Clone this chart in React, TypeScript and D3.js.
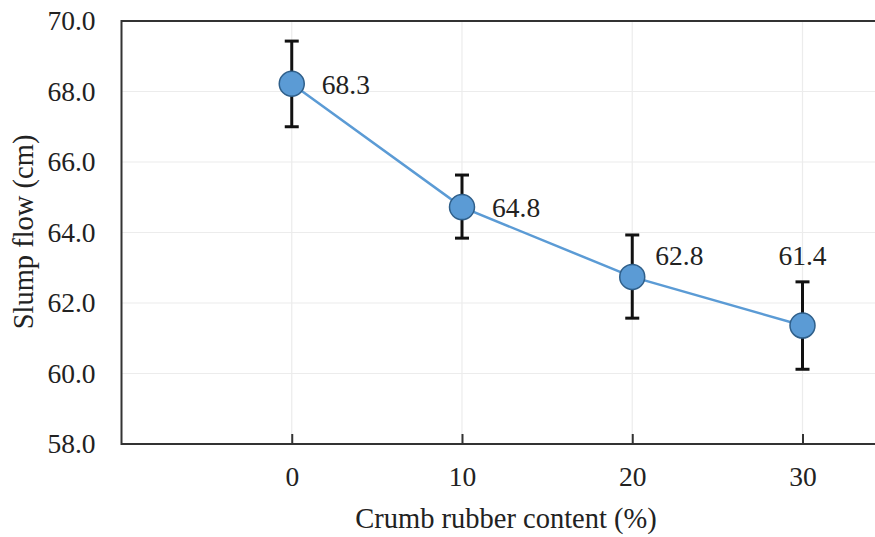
import React, { useEffect, useRef } from 'react';
import * as d3 from 'd3';

// Crumb rubber content (%) on the x axis
const categories = [0, 10, 20, 30];
// Slump flow means and error bar ends (cm)
const slumpFlow = [68.22, 64.72, 62.74, 61.36];
const errHigh = [69.43, 65.63, 63.93, 62.6];
const errLow = [67.0, 63.84, 61.57, 60.12];
const dataLabels = ['68.3', '64.8', '62.8', '61.4'];
// where each data label sits relative to its marker
const labelPlacement = ['right', 'right', 'upperRight', 'above'];
const yTicks = [58, 60, 62, 64, 66, 68, 70];

const WIDTH = 875;
const HEIGHT = 537;
const LEFT = 121.5;
const TOP = 21;
const BOTTOM = 444;

const FONT = '"Liberation Serif", "Times New Roman", serif';
const BLUE = 'rgb(91, 155, 213)';

export default function App() {
  const ref = useRef<SVGSVGElement>(null);

  useEffect(() => {
    const svg = d3.select(ref.current);
    svg.selectAll('*').remove();

    // one category step is 170px, left edge sits one step before 0
    const xScale = d3.scaleLinear().domain([-10, 30]).range([LEFT, 802.5]);
    const yScale = d3.scaleLinear().domain([58, 70]).range([BOTTOM, TOP]);

    // gridlines
    svg.append('g')
      .selectAll('line')
      .data(yTicks.slice(1, -1))
      .enter()
      .append('line')
      .attr('x1', LEFT)
      .attr('x2', WIDTH)
      .attr('y1', (d) => yScale(d))
      .attr('y2', (d) => yScale(d))
      .attr('stroke', '#ececec')
      .attr('stroke-width', 1.2);
    svg.append('g')
      .selectAll('line')
      .data(categories)
      .enter()
      .append('line')
      .attr('x1', (d) => xScale(d))
      .attr('x2', (d) => xScale(d))
      .attr('y1', TOP)
      .attr('y2', BOTTOM)
      .attr('stroke', '#ececec')
      .attr('stroke-width', 1.2);

    // frame: left, top, bottom (no right edge visible)
    const frame = svg.append('g').attr('stroke', '#333').attr('stroke-width', 2).attr('fill', 'none');
    frame.append('line').attr('x1', LEFT).attr('x2', LEFT).attr('y1', TOP - 1).attr('y2', BOTTOM + 1);
    frame.append('line').attr('x1', LEFT).attr('x2', WIDTH).attr('y1', TOP).attr('y2', TOP);
    frame.append('line').attr('x1', LEFT).attr('x2', WIDTH).attr('y1', BOTTOM).attr('y2', BOTTOM);

    // x ticks point inward
    const xAxis = d3.axisBottom(xScale).tickValues(categories).tickSize(-10).tickPadding(22).tickSizeOuter(0);
    const gx = svg.append('g').attr('transform', `translate(0,${BOTTOM})`).call(xAxis);
    gx.select('.domain').remove();
    gx.selectAll('line').attr('stroke', '#333').attr('stroke-width', 2);
    gx.selectAll('text')
      .style('font-family', FONT)
      .style('font-size', '27.5px')
      .attr('fill', '#222')
      .attr('dy', '0.71em');

    const yAxis = d3.axisLeft(yScale).tickValues(yTicks).tickSize(0).tickPadding(26).tickFormat(d3.format('.1f'));
    const gy = svg.append('g').attr('transform', `translate(${LEFT},0)`).call(yAxis);
    gy.select('.domain').remove();
    gy.selectAll('text')
      .style('font-family', FONT)
      .style('font-size', '27.5px')
      .attr('fill', '#222');

    const points = categories.map((c, i) => ({ x: c, y: slumpFlow[i], hi: errHigh[i], lo: errLow[i], label: dataLabels[i], pos: labelPlacement[i] }));

    // connecting line
    const line = d3.line<any>().x((d) => xScale(d.x)).y((d) => yScale(d.y));
    svg.append('path')
      .datum(points)
      .attr('d', line)
      .attr('fill', 'none')
      .attr('stroke', BLUE)
      .attr('stroke-width', 2.5);

    // error bars
    const err = svg.append('g').attr('stroke', '#111').attr('stroke-width', 3);
    points.forEach((d) => {
      const x = xScale(d.x);
      err.append('line').attr('x1', x).attr('x2', x).attr('y1', yScale(d.hi)).attr('y2', yScale(d.lo));
      err.append('line').attr('x1', x - 7).attr('x2', x + 7).attr('y1', yScale(d.hi)).attr('y2', yScale(d.hi));
      err.append('line').attr('x1', x - 7).attr('x2', x + 7).attr('y1', yScale(d.lo)).attr('y2', yScale(d.lo));
    });

    // markers
    svg.append('g')
      .selectAll('circle')
      .data(points)
      .enter()
      .append('circle')
      .attr('cx', (d) => xScale(d.x))
      .attr('cy', (d) => yScale(d.y))
      .attr('r', 12.5)
      .attr('fill', BLUE)
      .attr('stroke', '#2f5f8a')
      .attr('stroke-width', 1.5);

    // data labels
    svg.append('g')
      .selectAll('text')
      .data(points)
      .enter()
      .append('text')
      .attr('x', (d) => {
        const x = xScale(d.x);
        if (d.pos === 'right') return x + 30;
        if (d.pos === 'upperRight') return x + 23;
        return x;
      })
      .attr('y', (d) => {
        const y = yScale(d.y);
        if (d.pos === 'right') return y + 10;
        if (d.pos === 'upperRight') return y - 12;
        return y - 61;
      })
      .attr('text-anchor', (d) => (d.pos === 'above' ? 'middle' : 'start'))
      .style('font-family', FONT)
      .style('font-size', '27.5px')
      .attr('fill', '#222')
      .text((d) => d.label);

    // axis titles
    svg.append('text')
      .attr('x', 506)
      .attr('y', 528)
      .attr('text-anchor', 'middle')
      .style('font-family', FONT)
      .style('font-size', '28.5px')
      .attr('fill', '#222')
      .text('Crumb rubber content (%)');
    svg.append('text')
      .attr('transform', `translate(33,232) rotate(-90)`)
      .attr('text-anchor', 'middle')
      .style('font-family', FONT)
      .style('font-size', '28.5px')
      .attr('fill', '#222')
      .text('Slump flow (cm)');
  }, []);

  return (
    <svg
      ref={ref}
      width={WIDTH}
      height={HEIGHT}
      style={{ position: 'absolute', left: 0, top: 0, background: '#fff' }}
    />
  );
}
